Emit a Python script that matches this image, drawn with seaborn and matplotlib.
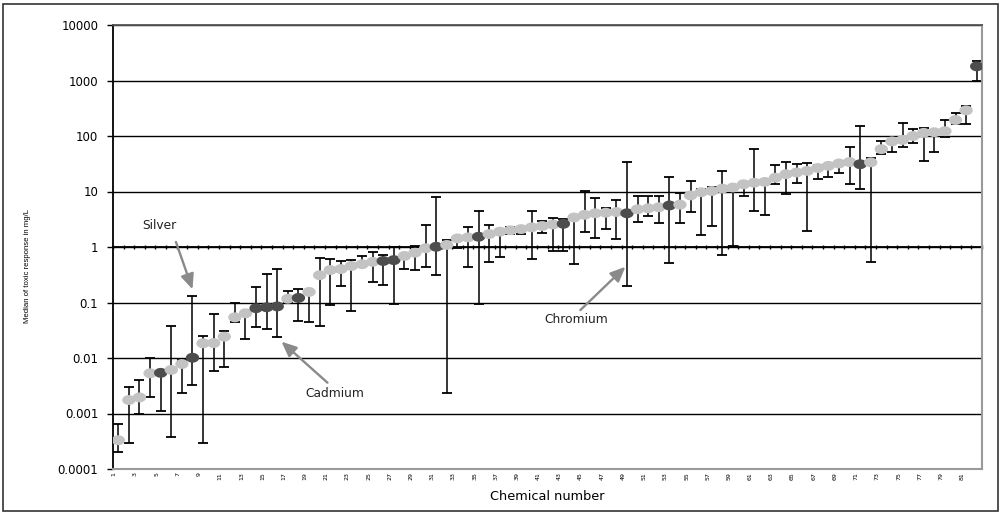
import numpy as np
import pandas as pd
import matplotlib
matplotlib.use("Agg")
import matplotlib.pyplot as plt
import seaborn as sns
from matplotlib.path import Path
from matplotlib.patches import Rectangle
from matplotlib.ticker import FixedLocator, FixedFormatter, NullLocator
from matplotlib.transforms import ScaledTranslation

# ---- data: median toxic response per chemical (mg/L) with its range ----
chemical = list(range(1, 83))

median = [0.00033, 0.00175, 0.00195, 0.0053, 0.0054, 0.0061, 0.0078, 0.0101, 0.0184, 0.0186,
          0.0242, 0.054, 0.064, 0.079, 0.082, 0.085, 0.117, 0.121, 0.155, 0.31,
          0.385, 0.40, 0.455, 0.49, 0.54, 0.56, 0.58, 0.69, 0.79, 0.95,
          1.01, 1.09, 1.43, 1.49, 1.53, 1.71, 1.89, 2.0, 2.1, 2.26,
          2.39, 2.55, 2.62, 3.4, 3.8, 4.05, 4.15, 4.27, 4.05, 4.78,
          4.98, 5.2, 5.6, 5.8, 8.5, 9.7, 10.2, 11.3, 11.8, 13.5,
          14.4, 14.9, 17.7, 20.5, 22.0, 23.5, 26.5, 29.0, 32.0, 34.0,
          31.0, 33.5, 58.0, 80.0, 85.0, 100.0, 114.0, 117.0, 122.0, 194.0,
          290.0, 1800.0]

lower = [0.0002, 0.0003, 0.001, 0.002, 0.0011, 0.00037, 0.0023, 0.0032, 0.0003, 0.0059,
         0.007, 0.045, 0.022, 0.0367, 0.033, 0.024, 0.1, 0.047, 0.045, 0.037,
         0.09, 0.2, 0.071, 0.45, 0.23, 0.21, 0.095, 0.40, 0.385, 0.44,
         0.31, 0.0023, 0.95, 0.44, 0.094, 0.54, 0.67, 1.7, 1.75, 0.6,
         1.81, 0.85, 0.85, 0.49, 1.89, 1.47, 2.1, 1.38, 0.198, 2.86,
         3.62, 2.67, 0.52, 2.67, 4.3, 1.64, 2.42, 0.72, 1.06, 8.2,
         4.45, 3.77, 13.9, 8.9, 14.5, 1.95, 16.8, 18.5, 21.3, 13.6,
         11.1, 0.54, 47.0, 51.0, 63.0, 76.0, 35.0, 52.0, 97.0, 164.0,
         164.0, 991.0]

upper = [0.00064, 0.003, 0.004, 0.0101, 0.0058, 0.038, 0.0092, 0.133, 0.025, 0.062,
         0.031, 0.1, 0.068, 0.19, 0.32, 0.40, 0.163, 0.178, 0.16, 0.64,
         0.61, 0.56, 0.58, 0.69, 0.82, 0.72, 1.0, 0.75, 1.04, 2.5,
         8.1, 1.34, 1.5, 2.3, 4.5, 2.5, 1.95, 2.3, 2.3, 4.5,
         2.95, 3.3, 3.2, 3.5, 10.3, 7.7, 5.1, 7.0, 33.6, 8.3,
         8.3, 8.3, 18.3, 9.3, 15.2, 11.0, 12.2, 23.7, 12.3, 14.0,
         59.0, 15.5, 29.5, 34.5, 31.0, 33.0, 30.0, 30.0, 33.0, 64.0,
         152.0, 40.0, 82.0, 84.0, 174.0, 135.0, 142.0, 121.0, 195.0, 263.0,
         352.0, 2270.0]

# metals shown in the darker shade
highlighted = [5, 8, 14, 15, 16, 18, 26, 27, 31, 35, 43, 49, 53, 71, 82]

y_ticks = [1e-4, 1e-3, 1e-2, 1e-1, 1, 10, 100, 1000, 10000]
y_tick_labels = ["0.0001", "0.001", "0.01", "0.1", "1", "10", "100", "1000", "10000"]
x_tick_values = list(range(1, 82, 2))
x_tick_labels = [str(v) for v in x_tick_values]

annotations = [
    # label, text position, arrow start, arrow tip (data coordinates)
    ("Silver",   (4.84, 2.39),    (6.44, 1.23),    (8.0, 0.173)),
    ("Cadmium",  (21.4, 0.00234), (20.74, 0.00359), (16.4, 0.0197)),
    ("Chromium", (44.2, 0.0504),  (44.6, 0.073),   (48.85, 0.44)),
]

LIGHT = "#c3c3c3"
DARK = "#4d4d4d"

df = pd.DataFrame({"chemical": chemical, "median": median,
                   "lower": lower, "upper": upper})
df["group"] = np.where(df["chemical"].isin(highlighted), "metal", "other")

# ---- styling ----
sns.set_theme(style="white")
plt.rcParams["font.family"] = ["DejaVu Sans"]

fig = plt.figure(figsize=(10.02, 5.13), dpi=100)
ax = fig.add_axes([113 / 1002, 1 - 469 / 513, 869 / 1002, 444 / 513])
ax.set_yscale("log")

# error bars
ax.errorbar(df["chemical"], df["median"],
            yerr=[df["median"] - df["lower"], df["upper"] - df["median"]],
            fmt="none", ecolor="black", elinewidth=1.1, capsize=3.3,
            capthick=1.3, zorder=2)

# elliptical markers
t = np.linspace(0, 2 * np.pi, 64)
ellipse = Path(np.column_stack([1.35 * np.cos(t), np.sin(t)]), closed=True)
sns.scatterplot(data=df, x="chemical", y="median", hue="group",
                palette={"other": LIGHT, "metal": DARK}, marker=ellipse,
                s=92, linewidth=0, legend=False, ax=ax, zorder=3)

ax.set_xlim(0.5, 82.5)
ax.set_ylim(1e-4, 1e4)

# y axis
ax.yaxis.set_major_locator(FixedLocator(y_ticks))
ax.yaxis.set_major_formatter(FixedFormatter(y_tick_labels))
ax.yaxis.set_minor_locator(NullLocator())
ax.tick_params(axis="y", which="major", left=True, length=4.3, width=1.0,
               color="black", pad=6.3, labelsize=8.5, labelcolor="black")
ax.grid(axis="y", color="black", linewidth=1.0)
ax.grid(axis="x", visible=False)
ax.set_axisbelow(True)

# x tick labels along the bottom
ax.xaxis.set_major_locator(FixedLocator(x_tick_values))
ax.xaxis.set_major_formatter(FixedFormatter(x_tick_labels))
ax.tick_params(axis="x", which="major", bottom=False, length=0, pad=2.2,
               labelsize=4.5, labelrotation=90, labelcolor="black")
shift = ScaledTranslation(-4 / 100, 0, fig.dpi_scale_trans)
for lbl in ax.get_xticklabels():
    lbl.set_transform(lbl.get_transform() + shift)

# category axis crossing at 1
cross = ax.secondary_xaxis(0.5)
cross.xaxis.set_major_locator(FixedLocator(np.arange(0.5, 83, 1.0)))
cross.tick_params(axis="x", direction="inout", length=3.5, width=1.0,
                  color="black", labelbottom=False, labeltop=False)
for side, sp in cross.spines.items():
    sp.set_visible(side == "bottom")
cross.spines["bottom"].set_color("black")
cross.spines["bottom"].set_linewidth(1.3)

# plot-area frame
ax.spines["top"].set_color("#555555")
ax.spines["top"].set_linewidth(1.3)
for side in ["right", "bottom"]:
    ax.spines[side].set_color("#9a9a9a")
    ax.spines[side].set_linewidth(1.5)
ax.spines["left"].set_color("black")
ax.spines["left"].set_linewidth(1.3)

# axis titles
ax.set_xlabel("Chemical number", fontsize=9.3, color="black")
ax.xaxis.label.set_va("center")
ax.xaxis.set_label_coords(0.5, -0.061)
ax.set_ylabel("Median of toxic response in mg/L", fontsize=5.6,
              family="Liberation Sans", color="black")
ax.yaxis.label.set_va("center")
ax.yaxis.set_label_coords(-0.098, 0.457)

# labelled arrows
for label, text_xy, start_xy, tip_xy in annotations:
    ax.annotate("", xy=tip_xy, xytext=start_xy,
                arrowprops=dict(arrowstyle="-|>,head_length=0.75,head_width=0.33",
                                color="#8a8a8a", lw=1.7, shrinkA=0, shrinkB=0),
                zorder=4)
    ax.text(text_xy[0], text_xy[1], label, fontsize=8.8, color="#222222",
            ha="center", va="center", zorder=4)

# outer chart border
fig.patches.append(Rectangle((3 / 1002, 2 / 513), 995 / 1002, 507 / 513,
                             transform=fig.transFigure, fill=False,
                             edgecolor="#333333", linewidth=1.2))

fig.savefig("out.png", dpi=100, facecolor="white")
